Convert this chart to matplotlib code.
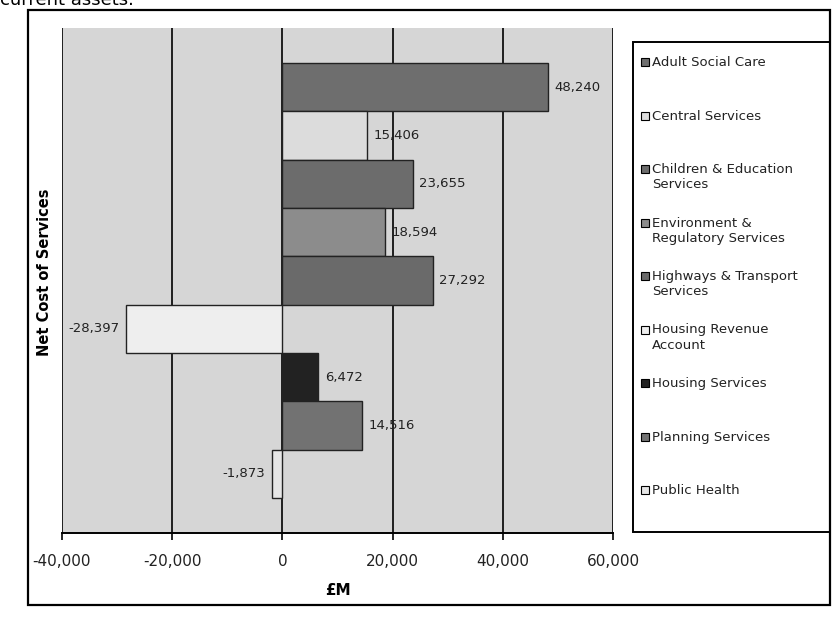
import matplotlib
matplotlib.use("Agg")
import matplotlib.pyplot as plt
from matplotlib.patches import Rectangle

services = [
    "Adult Social Care",
    "Central Services",
    "Children & Education\nServices",
    "Environment &\nRegulatory Services",
    "Highways & Transport\nServices",
    "Housing Revenue\nAccount",
    "Housing Services",
    "Planning Services",
    "Public Health",
]
net_cost = [48240, 15406, 23655, 18594, 27292, -28397, 6472, 14516, -1873]
bar_colors = ["#6e6e6e", "#dcdcdc", "#6c6c6c", "#8c8c8c", "#6a6a6a",
              "#eeeeee", "#222222", "#727272", "#e6e6e6"]
x_ticks = [-40000, -20000, 0, 20000, 40000, 60000]

plt.rcParams["font.family"] = ["DejaVu Sans"]

W, H = 839, 619
fig = plt.figure(figsize=(W / 100, H / 100), dpi=100)
fig.patch.set_facecolor("white")


def fx(px):
    return px / W


def fy(py):
    return 1 - py / H


# outer chart frame
fig.add_artist(Rectangle((fx(28), fy(605)), fx(802), 595 / H,
                         transform=fig.transFigure, fill=False,
                         edgecolor="black", linewidth=1.6))

# page text running above the chart
fig.text(0.0, 1.0, "current assets.", fontsize=13, ha="left", va="center")

ax = fig.add_axes([fx(62), fy(533), fx(551), 505 / H])
ax.set_facecolor("#d6d6d6")

positions = list(range(len(services)))
for pos, val, col, name in zip(positions, net_cost, bar_colors, services):
    ax.barh(pos, val, height=1.0, color=col, edgecolor="#222222",
            linewidth=1.0, label=name, zorder=3)
    label = f"{val:,}"
    if val >= 0:
        ax.text(val + 1200, pos, label, va="center", ha="left", fontsize=9.5,
                color="#222222", zorder=4)
    else:
        ax.text(val - 1200, pos, label, va="center", ha="right", fontsize=9.5,
                color="#222222", zorder=4)

ax.set_xlim(-40000, 60000)
ax.set_ylim(8.5 + 0.72, -0.5 - 0.72)
ax.set_xticks(x_ticks)
ax.set_xticklabels([f"{t:,}" for t in x_ticks], fontsize=11, color="#222222")
ax.set_yticks([])
ax.xaxis.grid(True, color="black", linewidth=1.2, zorder=1)
ax.set_axisbelow(True)
ax.tick_params(axis="x", length=5, width=1.2, pad=10)
for side in ["top", "right", "left"]:
    ax.spines[side].set_visible(False)
ax.spines["bottom"].set_linewidth(1.4)

ax.set_xlabel("£M", fontsize=11, fontweight="bold", labelpad=10)
fig.text(fx(45), 0.56, "Net Cost of Services", rotation=90, fontsize=10.5,
         fontweight="bold", ha="center", va="center")

# legend panel, one evenly spaced row per service
leg_left, leg_top, leg_right, leg_bottom = 633, 42, 830, 532
fig.add_artist(Rectangle((fx(leg_left), fy(leg_bottom)),
                         fx(leg_right - leg_left), (leg_bottom - leg_top) / H,
                         transform=fig.transFigure, fill=False,
                         edgecolor="black", linewidth=1.4))
row_step = 53.5
for i, (name, col) in enumerate(zip(services, bar_colors)):
    top = leg_top + 14 + i * row_step
    fig.add_artist(Rectangle((fx(641), fy(top + 10)), fx(8), 8 / H,
                             transform=fig.transFigure, facecolor=col,
                             edgecolor="black", linewidth=0.8))
    fig.text(fx(652), fy(top), name, fontsize=9.5, color="#222222",
             ha="left", va="top", linespacing=1.25)

fig.savefig("out.png", dpi=100, facecolor="white")
